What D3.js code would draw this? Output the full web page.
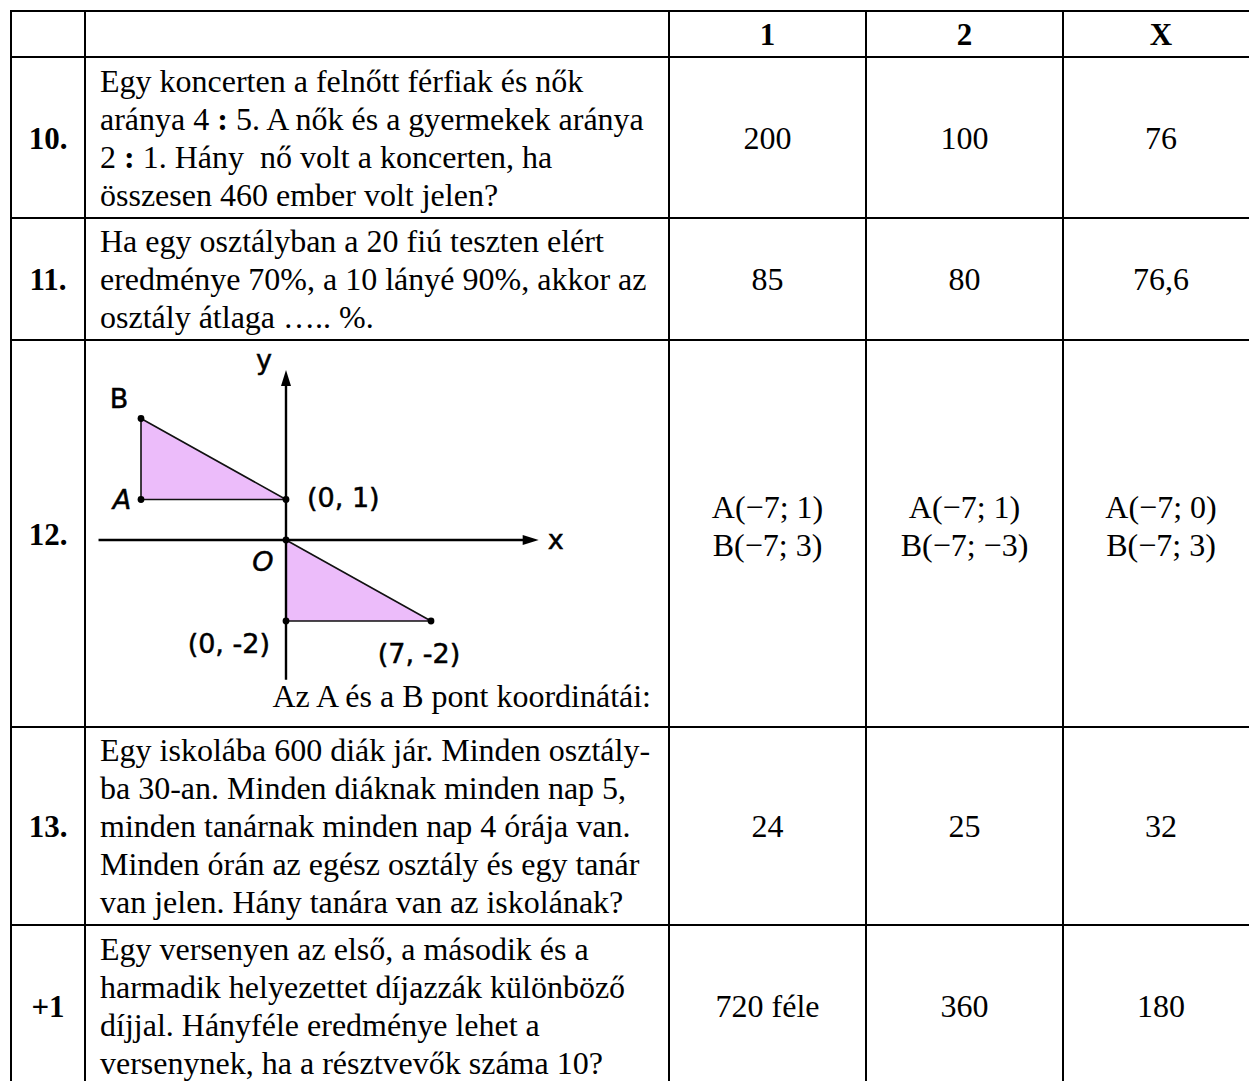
<!DOCTYPE html>
<html lang="hu">
<head>
<meta charset="UTF-8">
<title>Feladatok 10–13</title>
<script src="https://cdn.jsdelivr.net/npm/d3@7"></script>
<style>
  body { margin: 0; background: #fff; }
  text { white-space: pre; }
</style>
</head>
<body>
<script>
// --- table content ---
const headers = ["", "", "1", "2", "X"];
const rowLabels = ["10.", "11.", "12.", "13.", "+1"];
const questions = [
  ["Egy koncerten a felnőtt férfiak és nők",
   "aránya 4 : 5. A nők és a gyermekek aránya",
   "2 : 1. Hány  nő volt a koncerten, ha",
   "összesen 460 ember volt jelen?"],
  ["Ha egy osztályban a 20 fiú teszten elért",
   "eredménye 70%, a 10 lányé 90%, akkor az",
   "osztály átlaga ….. %."],
  [],
  ["Egy iskolába 600 diák jár. Minden osztály-",
   "ba 30-an. Minden diáknak minden nap 5,",
   "minden tanárnak minden nap 4 órája van.",
   "Minden órán az egész osztály és egy tanár",
   "van jelen. Hány tanára van az iskolának?"],
  ["Egy versenyen az első, a második és a",
   "harmadik helyezettet díjazzák különböző",
   "díjjal. Hányféle eredménye lehet a",
   "versenynek, ha a résztvevők száma 10?"]
];
const figureCaption = "Az A és a B pont koordinátái:";
const answers1 = [["200"], ["85"], ["A(−7; 1)", "B(−7; 3)"], ["24"], ["720 féle"]];
const answers2 = [["100"], ["80"], ["A(−7; 1)", "B(−7; −3)"], ["25"], ["360"]];
const answersX = [["76"], ["76,6"], ["A(−7; 0)", "B(−7; 3)"], ["32"], ["180"]];

// --- figure content (coordinate plane in question 12) ---
const upperTriangle = [[-7, 1], [-7, 3], [0, 1]];
const lowerTriangle = [[0, 0], [0, -2], [7, -2]];
const figurePoints = [[-7, 1], [-7, 3], [0, 1], [0, 0], [0, -2], [7, -2]];
const pointNames = ["A", "B", "(0, 1)", "O", "(0, -2)", "(7, -2)"];
const axisXExtent = [-9.05, 12.2];
const axisYExtent = [-3.45, 4.2];

// --- layout ---
const W = 1249, H = 1081;
const colEdges = [11, 85, 669, 866, 1063, 1259];
const rowEdges = [11, 57, 218, 340, 727, 925, 1086];
const lineGap = 38;
const serif = "'Liberation Serif', 'Times New Roman', serif";
const hand = "'DejaVu Sans', 'Noto Sans', sans-serif";
const fontSize = 32;

const svg = d3.select("body").append("svg")
  .attr("width", W).attr("height", H);

// write a (possibly multi-line) block centred on cy; " : " gets a bold colon
function block(g, lines, x, cy, anchor, bold, size) {
  const n = lines.length;
  lines.forEach((ln, i) => {
    const t = g.append("text")
      .attr("x", x)
      .attr("y", cy + (i - (n - 1) / 2) * lineGap + 11)
      .attr("text-anchor", anchor)
      .attr("font-family", serif)
      .attr("font-size", size || fontSize)
      .attr("font-weight", bold ? "bold" : null)
      .attr("fill", "#000");
    const parts = ln.split(" : ");
    parts.forEach((p, k) => {
      if (k > 0) {
        t.append("tspan").text(" ");
        t.append("tspan").attr("font-weight", "bold").text(":");
        t.append("tspan").text(" ");
      }
      t.append("tspan").text(p);
    });
  });
}

const colMid = i => (colEdges[i] + colEdges[i + 1]) / 2;
const rowMid = j => (rowEdges[j] + rowEdges[j + 1]) / 2;

// header
const head = svg.append("g");
headers.forEach((h, i) => {
  if (h) block(head, [h], colMid(i), rowMid(0), "middle", true, 31);
});

// body rows
const body = svg.append("g");
rowLabels.forEach((lab, r) => {
  const j = r + 1;
  const cy = rowMid(j);
  const ay = answers1[r].length > 1 ? cy - 8 : cy;
  block(body, [lab], colMid(0), cy, "middle", true, 31);
  if (questions[r].length) block(body, questions[r], colEdges[1] + 15, cy, "start", false);
  block(body, answers1[r], colMid(2), ay, "middle", false);
  block(body, answers2[r], colMid(3), ay, "middle", false);
  block(body, answersX[r], colMid(4), ay, "middle", false);
});

// caption under the figure
body.append("text")
  .attr("x", colEdges[2] - 18)
  .attr("y", rowEdges[4] - 20)
  .attr("text-anchor", "end")
  .attr("font-family", serif)
  .attr("font-size", fontSize)
  .text(figureCaption);

// grid lines
const grid = svg.append("g").attr("stroke", "#000").attr("stroke-width", 2);
grid.selectAll("line.v").data(colEdges).join("line")
  .attr("class", "v")
  .attr("x1", d => d).attr("x2", d => d)
  .attr("y1", rowEdges[0] - 1).attr("y2", rowEdges[rowEdges.length - 1]);
grid.selectAll("line.h").data(rowEdges).join("line")
  .attr("class", "h")
  .attr("y1", d => d).attr("y2", d => d)
  .attr("x1", colEdges[0] - 1).attr("x2", colEdges[colEdges.length - 1]);

// --- coordinate figure ---
const fx = d3.scaleLinear().domain([0, 7]).range([286, 431]);
const fy = d3.scaleLinear().domain([0, 1]).range([540, 499.5]);
const fig = svg.append("g");

const tri = d3.line().x(d => fx(d[0])).y(d => fy(d[1]));
[upperTriangle, lowerTriangle].forEach(t => {
  fig.append("path")
    .attr("d", tri(t) + "Z")
    .attr("fill", "#ecbcfa")
    .attr("stroke", "#111")
    .attr("stroke-width", 1.6)
    .attr("stroke-linejoin", "round");
});

// axes with arrow heads
const ax = fig.append("g").attr("stroke", "#000").attr("stroke-width", 2.4);
ax.append("line")
  .attr("x1", fx(axisXExtent[0])).attr("x2", fx(axisXExtent[1]) - 8)
  .attr("y1", fy(0)).attr("y2", fy(0));
ax.append("line")
  .attr("x1", fx(0)).attr("x2", fx(0))
  .attr("y1", fy(axisYExtent[0])).attr("y2", fy(axisYExtent[1]) + 8);
const xt = fx(axisXExtent[1]), yt = fy(axisYExtent[1]);
fig.append("path")
  .attr("d", `M${xt},${fy(0)} L${xt - 16},${fy(0) - 5} L${xt - 16},${fy(0) + 5} Z`)
  .attr("fill", "#000");
fig.append("path")
  .attr("d", `M${fx(0)},${yt} L${fx(0) - 5},${yt + 16} L${fx(0) + 5},${yt + 16} Z`)
  .attr("fill", "#000");

// points
fig.selectAll("circle").data(figurePoints).join("circle")
  .attr("cx", d => fx(d[0])).attr("cy", d => fy(d[1]))
  .attr("r", 3.4).attr("fill", "#000");

// labels
const labelOffsets = [[-19, 9], [-22, -11], [21, 7], [-23, 31], [-16, 32], [-12, 42]];
const labelAnchors = ["middle", "middle", "start", "middle", "end", "middle"];
const handText = sel => sel
  .attr("font-family", hand)
  .attr("font-size", 27)
  .attr("fill", "#000")
  .attr("stroke", "#000")
  .attr("stroke-width", 0.5);
fig.selectAll("text.pt").data(pointNames).join("text")
  .attr("class", "pt")
  .attr("x", (d, i) => fx(figurePoints[i][0]) + labelOffsets[i][0])
  .attr("y", (d, i) => fy(figurePoints[i][1]) + labelOffsets[i][1])
  .attr("text-anchor", (d, i) => labelAnchors[i])
  .attr("font-style", (d, i) => i === 0 || i === 3 ? "italic" : null)
  .call(handText)
  .text(d => d);
fig.append("text")
  .attr("x", fx(axisXExtent[1]) + 17).attr("y", fy(0) + 9)
  .attr("text-anchor", "middle")
  .call(handText)
  .text("x");
fig.append("text")
  .attr("x", fx(0) - 22).attr("y", fy(axisYExtent[1]) - 1)
  .attr("text-anchor", "middle")
  .call(handText)
  .text("y");
</script>
</body>
</html>
